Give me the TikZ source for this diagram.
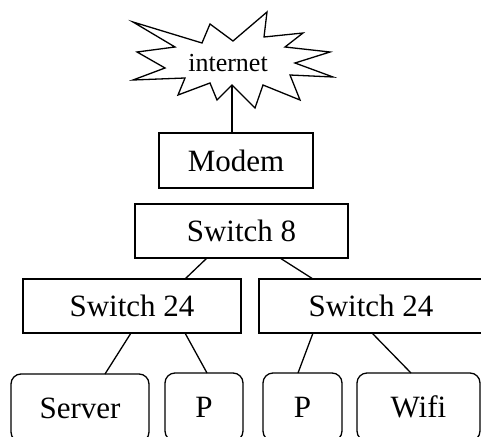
\documentclass[tikz,border=0pt]{standalone}
\usepackage{fontspec}
\setmainfont{Liberation Serif}
\begin{document}
\begin{tikzpicture}[x=1pt,y=-1pt,
  line width=1.3pt,
  boxnode/.style={draw, rectangle, inner sep=0pt, outer sep=0pt,
    font=\fontsize{31}{31}\selectfont},
  roundbox/.style={boxnode, rounded corners=10pt},
  link/.style={line width=1.3pt}]
\clip (0,0) rectangle (481,436);
% starburst
\draw[line join=miter] (133,22) -- (202,43) -- (210,24) -- (233,41) -- (267,12) -- (264,37)
  -- (303,33) -- (285,47) -- (330,52) -- (295,63) -- (333,77) -- (290,75)
  -- (300,100) -- (263,85) -- (255,108) -- (232,85) -- (217,100) -- (210,83)
  -- (178,95) -- (185,78) -- (133,80) -- (165,68) -- (137,52) -- (175,47) -- cycle;
\coordinate (inetbot) at (232,85);
\node[inner sep=0pt, font=\fontsize{26}{26}\selectfont] (internet) at (228,63) {internet};
% boxes
\node[boxnode, minimum width=154pt, minimum height=55pt] (modem) at (236,160.5) {Modem};
\node[boxnode, minimum width=213pt, minimum height=54pt] (sw8) at (241.5,231) {Switch 8};
\node[boxnode, minimum width=218pt, minimum height=54pt] (swL) at (132,306) {Switch 24};
\node[boxnode, minimum width=224pt, minimum height=54pt] (swR) at (371,306) {Switch 24};
\node[roundbox, minimum width=138pt, minimum height=68pt] (server) at (80,408) {Server};
\node[roundbox, minimum width=78pt, minimum height=68pt] (p1) at (204,407) {P};
\node[roundbox, minimum width=79pt, minimum height=68pt] (p2) at (302.5,407) {P};
\node[roundbox, minimum width=123pt, minimum height=68pt] (wifi) at (418.5,407) {Wifi};
% connectors
\draw[link] (inetbot) -- (inetbot |- modem.north);
\draw[link] ([xshift=72pt]sw8.south west) -- ([xshift=162pt]swL.north west);
\draw[link] ([xshift=145pt]sw8.south west) -- ([xshift=54pt]swR.north west);
\draw[link] ([xshift=108pt]swL.south west) -- ([xshift=94pt]server.north west);
\draw[link] ([xshift=162pt]swL.south west) -- ([xshift=42pt]p1.north west);
\draw[link] ([xshift=54pt]swR.south west) -- ([xshift=35pt]p2.north west);
\draw[link] ([xshift=113pt]swR.south west) -- ([xshift=54pt]wifi.north west);
\end{tikzpicture}
\end{document}
